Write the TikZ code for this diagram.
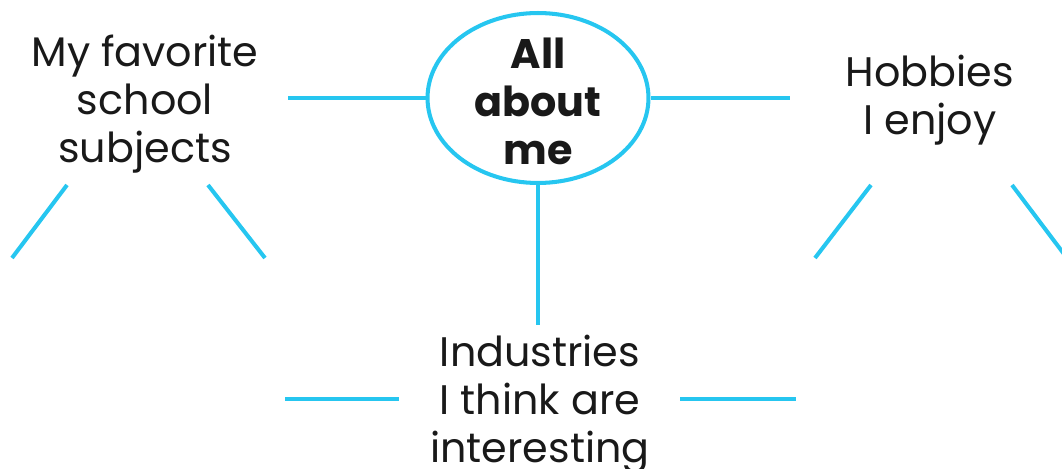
\documentclass[tikz,border=0pt]{standalone}
\usepackage{fontspec}
\setmainfont{Poppins}
\usetikzlibrary{shapes.geometric}
\definecolor{linkblue}{RGB}{38,198,240}

\begin{document}
\begin{tikzpicture}[x=0.02cm,y=-0.02cm,
    topic/.style={align=center,text=black!90,font=\fontsize{23.5}{27.3}\selectfont},
    link/.style={linkblue,line width=2.3pt}]
  \useasboundingbox (0,0) rectangle (1062,469);
  \clip (0,0) rectangle (1062,469);

  \node[ellipse,draw=linkblue,line width=2.3pt,minimum width=4.42cm,minimum height=3.4cm,
        inner sep=0pt,topic,font=\bfseries\fontsize{23.5}{27.3}\selectfont] (me) at (538,98) {};
  \node[topic,font=\bfseries\fontsize{23.5}{27.3}\selectfont] (metext) at (538,101) {All\\about\\me};

  \node[topic] (school) at (145,104) {My favorite\\school\\subjects};
  \node[topic] (hobbies) at (930,100) {Hobbies\\I enjoy};
  \node[topic] (industries) at (540,404) {Industries\\I think are\\interesting};

  \coordinate (l1) at (288,98);
  \coordinate (r1) at (790,98);
  \coordinate (bot) at (538,325);
  \draw[link] (me.west) -- (l1);
  \draw[link] (me.east) -- (r1);
  \draw[link] (me.south) -- (bot);

  % branches of the topics
  \draw[link] (67,185) -- (12,258);
  \draw[link] (208,185) -- (265,258);
  \draw[link] (871,185) -- (815,258);
  \draw[link] (1012,185) -- (1067,258);
  \draw[link] (285,399) -- (399,399);
  \draw[link] (680,399) -- (796,399);
\end{tikzpicture}
\end{document}
